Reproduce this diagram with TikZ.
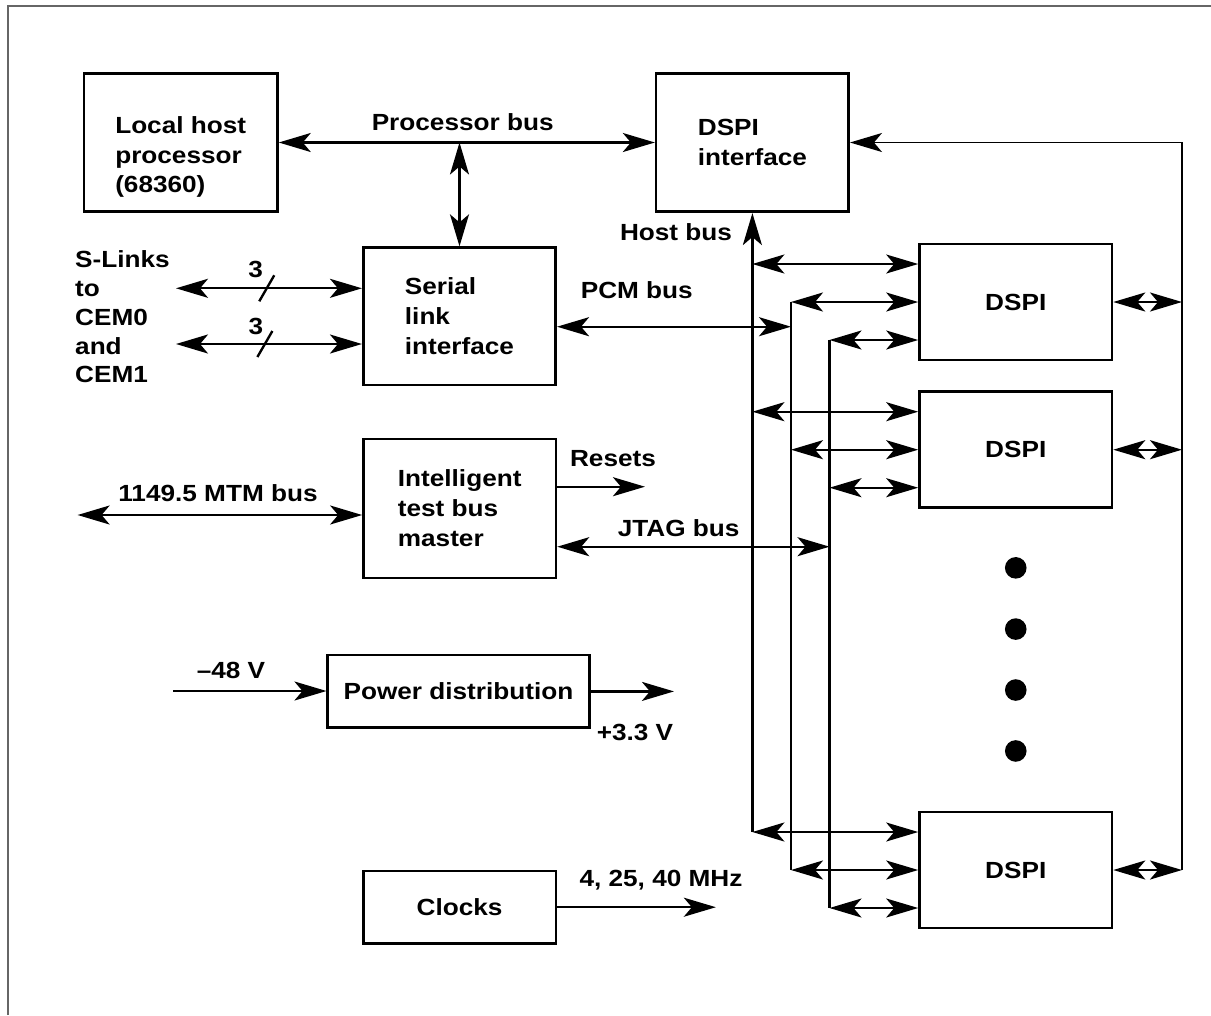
\documentclass[tikz,border=0pt]{standalone}
\usepackage{fontspec}
\setmainfont{Liberation Sans}[FakeStretch=1.12]
\usepackage{tikz}
\usetikzlibrary{arrows.meta,calc,positioning}
\tikzset{bigtip/.tip={Stealth[length=0.64cm,width=0.38cm,inset=0.16cm]}}

\begin{document}
\begin{tikzpicture}[x=0.02cm,y=-0.02cm,
    font=\fontsize{13.3}{17}\selectfont\bfseries,
    blk/.style={draw,line width=1.5pt,inner sep=0pt,align=left},
    bus/.style={line width=1.35pt},
    rail/.style={line width=0.9pt}]
          \useasboundingbox (0,0) rectangle (1211,1015);
          % Draw the frame
          \draw[gray!80!black,line width=1.3pt] (8,1015) -- (8,6) -- (1211,6);
          % Draw the blocks
          \node[blk,minimum width=3.87cm,minimum height=2.77cm,
                label={[align=left,yshift=-0.29cm]center:Local host\\processor\\(68360)}] (lhp) at (180.7,142.5) {};
          \node[blk,minimum width=3.85cm,minimum height=2.77cm] (dspiif) at (752.4,142.5) {DSPI\\interface};
          \node[blk,minimum width=3.85cm,minimum height=2.75cm] (sli) at (459.5,316.4) {Serial\\link\\interface};
          \node[blk,minimum width=3.85cm,minimum height=2.78cm] (itbm) at (459.7,508.5) {Intelligent\\test bus\\master};
          \node[blk,minimum width=5.23cm,minimum height=1.45cm] (pwr) at (458.5,691.4) {Power distribution};
          \node[blk,minimum width=3.85cm,minimum height=1.45cm] (clk) at (459.6,907.2) {Clocks};
          \foreach \n/\y in {1/302,2/449.7,3/870}
            \node[blk,minimum width=3.85cm,minimum height=2.32cm] (d\n) at (1015.75,\y) {DSPI};
          % Dots between the DSPI blocks
          \foreach \k in {0.195,0.398,0.6,0.802}
            \fill ($(d2.south)!\k!(d3.north)$) circle[radius=10.8];
          % Bus positions
          \coordinate (pcmx) at (791,0);
          \coordinate (jtagx) at (829.5,0);
          \coordinate (railx) at (1182,0);
          % Processor bus
          \draw[bus,bigtip-bigtip] (lhp.east) -- (dspiif.west);
          \coordinate (pj) at (sli.north |- lhp.east);
          \draw[bus,bigtip-bigtip] (pj) -- (sli.north);
          \node (lpb) at (462.7,121.7) {Processor bus};
          % Taps to the DSPI blocks
          \foreach \n in {1,2,3} {
            \coordinate (ha\n) at ($(d\n.west)+(0,-38)$);
            \coordinate (pa\n) at (d\n.west);
            \coordinate (ja\n) at ($(d\n.west)+(0,38)$);
            \draw[bus,bigtip-bigtip] (ha\n -| dspiif.south) -- (ha\n);
            \draw[bus,bigtip-bigtip] (pa\n -| pcmx) -- (pa\n);
            \draw[bus,bigtip-bigtip] (ja\n -| jtagx) -- (ja\n);
            \draw[bus,bigtip-bigtip] (d\n.east) -- (d\n.east -| railx);
          }
          % Host bus, PCM bus and JTAG bus lines
          \draw[bus,-bigtip] (ha3 -| dspiif.south) -- (dspiif.south);
          \node (lhb) at (676,231.7) {Host bus};
          \draw[bus] (pa1 -| pcmx) -- (pa3 -| pcmx);
          \draw[bus] (ja1 -| jtagx) -- (ja3 -| jtagx);
          \draw[rail,-bigtip] (d3.east -| railx) |- (dspiif.east);
          \coordinate (pcmw) at ($(sli.east)+(0,10.3)$);
          \draw[bus,bigtip-bigtip] (pcmw) -- (pcmw -| pcmx);
          \node (lpcm) at (636.8,290) {PCM bus};
          % S-Links
          \node[anchor=west,align=left,font=\fontsize{13.3}{16.4}\selectfont\bfseries] (lsl) at (69,317) {S-Links\\to\\CEM0\\and\\CEM1};
          \coordinate (sl1) at (176,288.3);
          \coordinate (sl2) at (176,344);
          \draw[bus,bigtip-bigtip] (sl1) -- (sl1 -| sli.west) coordinate[pos=0.488] (sx1);
          \draw[bus,bigtip-bigtip] (sl2) -- (sl2 -| sli.west) coordinate[pos=0.478] (sx2);
          \draw[bus] ($(sx1)+(-7.5,13)$) -- ($(sx1)+(7.5,-13)$);
          \draw[bus] ($(sx2)+(-7.5,13)$) -- ($(sx2)+(7.5,-13)$);
          \node (n3a) at ($(sx1)+(-11,-19)$) {3};
          \node (n3b) at ($(sx2)+(-9,-18)$) {3};
          % Test bus master
          \coordinate (mtm) at (77.6,515);
          \draw[bus,bigtip-bigtip] (mtm) -- (mtm -| itbm.west);
          \node (lmtm) at (218,492.7) {1149.5 MTM bus};
          \coordinate (rsw) at ($(itbm.east)+(0,-21.8)$);
          \draw[bus,-bigtip] (rsw) -- ++(87.7,0) coordinate (rse);
          \node (lrs) at (613,459) {Resets};
          \coordinate (jtw) at ($(itbm.east)+(0,38.2)$);
          \draw[bus,bigtip-bigtip] (jtw) -- (jtw -| jtagx);
          \node (ljt) at (678.6,527.7) {JTAG bus};
          % Power distribution
          \coordinate (pin) at (173,691);
          \draw[bus,-bigtip] (pin) -- (pin -| pwr.west);
          \draw[bus,-bigtip] (pwr.east) -- ++(83.4,0) coordinate (pout);
          \node (lin) at (231,670) {–48 V};
          \node (lout) at (635,732) {+3.3 V};
          % Clocks
          \draw[bus,-bigtip] (clk.east) -- ++(158.7,0) coordinate (ckout);
          \node (lck) at (661,880) {4, 25, 40 MHz};
\end{tikzpicture}
\end{document}
